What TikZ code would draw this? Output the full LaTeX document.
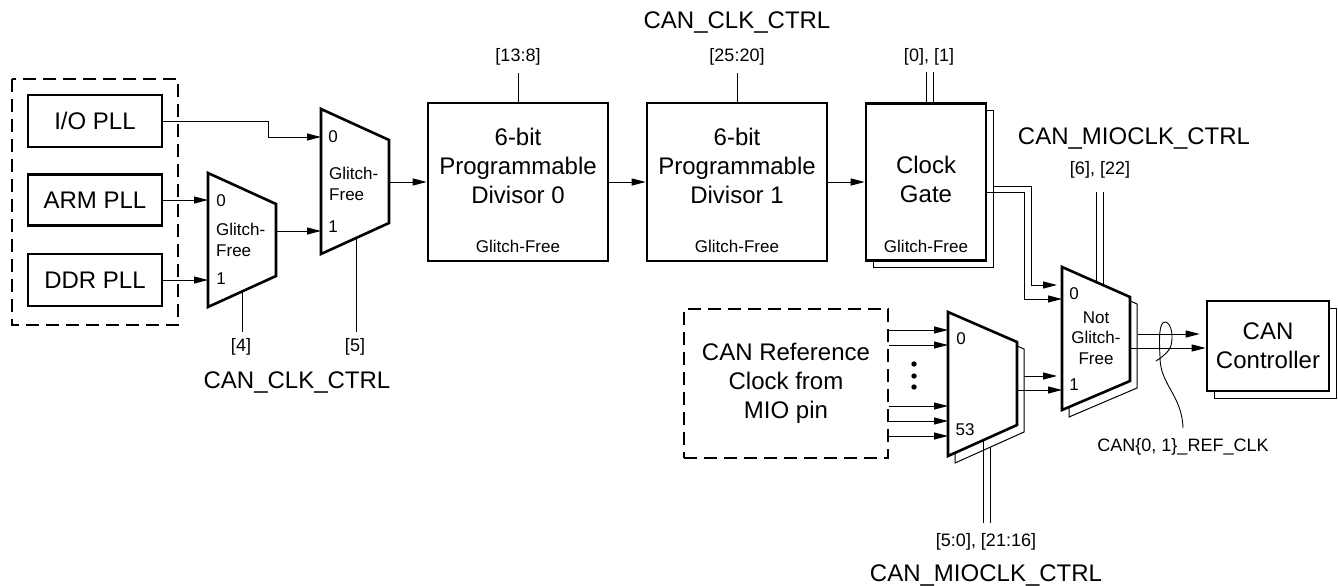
\documentclass[tikz,border=0pt]{standalone}
\usepackage{fontspec}
\setmainfont{Liberation Sans}
\usetikzlibrary{arrows.meta,shadows}

\newcommand{\bigtxt}{\fontsize{24}{29}\selectfont}
\newcommand{\muxtxt}{\fontsize{17}{20.5}\selectfont}
\newcommand{\bittxt}{\fontsize{18}{21}\selectfont}

\tikzset{
  blk/.style={draw, line width=2.6pt, fill=white, inner sep=0pt},
  shadowed/.style={copy shadow={shadow xshift=7pt, shadow yshift=-7pt, line width=1pt}},
  mux/.style={draw, line width=2.6pt, fill=white},
  wire/.style={line width=1pt},
  sig/.style={line width=1pt, -{Triangle[length=14pt,width=7pt]}},
  bitlbl/.style={font=\bittxt, inner sep=0pt},
  muxlbl/.style={font=\muxtxt, inner sep=0pt},
  dashbox/.style={draw, dash pattern=on 13pt off 7pt}
}

\begin{document}
\begin{tikzpicture}[x=1pt,y=-1pt,font=\bigtxt]
\useasboundingbox (0,0) rectangle (1338,586);

% PLL sources
\draw[dashbox, line width=1.2pt] (12,79) rectangle (178,325);
\node[blk, minimum width=134pt, minimum height=52pt] (iopll) at (95,121) {I/O PLL};
\node[blk, minimum width=134pt, minimum height=51pt] (armpll) at (95,200) {ARM PLL};
\node[blk, minimum width=134pt, minimum height=52pt] (ddrpll) at (95,280) {DDR PLL};

% first mux
\coordinate (ma-nw) at (208,173); \coordinate (ma-ne) at (276,204);
\coordinate (ma-se) at (276,276); \coordinate (ma-sw) at (208,307);
\draw[mux] (ma-nw) -- (ma-ne) -- (ma-se) -- (ma-sw) -- cycle;
\coordinate (ma-in0) at (208,200); \coordinate (ma-in1) at (208,280);
\coordinate (ma-out) at (276,231); \coordinate (ma-sel) at (242,292);
\node[muxlbl] (ma0) at (221,201) {0};
\node[muxlbl, anchor=west, align=left] (matxt) at (216,240) {Glitch-\\Free};
\node[muxlbl] (ma1) at (221,279) {1};

% second mux
\coordinate (mb-nw) at (321,109); \coordinate (mb-ne) at (389,140);
\coordinate (mb-se) at (389,223); \coordinate (mb-sw) at (321,254);
\draw[mux] (mb-nw) -- (mb-ne) -- (mb-se) -- (mb-sw) -- cycle;
\coordinate (mb-in0) at (321,137); \coordinate (mb-in1) at (321,231);
\coordinate (mb-out) at (389,182); \coordinate (mb-sel) at (356,238);
\node[muxlbl] (mb0) at (333,137) {0};
\node[muxlbl, anchor=west, align=left] (mbtxt) at (329,184) {Glitch-\\Free};
\node[muxlbl] (mb1) at (333,227) {1};

\draw[sig] (armpll.east) -- (ma-in0);
\draw[sig] (ddrpll.east) -- (ma-in1);
\draw[sig] (iopll.east) -- ++(105,0) |- (mb-in0);
\draw[sig] (ma-out) -- (mb-in1);

\draw[wire] (ma-sel) -- ++(0,40);
\draw[wire] (mb-sel) -- ++(0,94);
\node[bitlbl] (bit4) at (241,347) {[4]};
\node[bitlbl] (bit5) at (355,347) {[5]};
\node (ctrlbot) at (297,383) {CAN\_CLK\_CTRL};

% dividers and gate
\node[blk, minimum width=180pt, minimum height=158pt] (div0) at (518,182) {};
\node[align=center] (div0txt) at (518,166) {6-bit\\Programmable\\Divisor 0};
\node[muxlbl] (div0gf) at (518,246) {Glitch-Free};
\node[blk, minimum width=180pt, minimum height=158pt] (div1) at (737,182) {};
\node[align=center] (div1txt) at (737,166) {6-bit\\Programmable\\Divisor 1};
\node[muxlbl] (div1gf) at (737,246) {Glitch-Free};
\node[blk, shadowed, minimum width=120pt, minimum height=157pt] (gate) at (926,182) {};
\node[align=center] (gatetxt) at (926,179) {Clock\\Gate};
\node[muxlbl] (gategf) at (926,246) {Glitch-Free};

\draw[sig] (mb-out) -- (div0.west);
\draw[sig] (div0.east) -- (div1.west);
\draw[sig] (div1.east) -- (gate.west);

\draw[wire] (div0.north) -- ++(0,-29);
\draw[wire] (div1.north) -- ++(0,-29);
\draw[wire] (gate.north) -- ++(0,-30) ([xshift=7pt]gate.north) -- ++(0,-30);
\node[bitlbl] (bit138) at (518,57) {[13:8]};
\node[bitlbl] (bit2520) at (737,57) {[25:20]};
\node[bitlbl] (bit01) at (929,57) {[0], [1]};
\node (ctrltop) at (737,23) {CAN\_CLK\_CTRL};

% MIO reference clock
\node[dashbox, line width=2.2pt, minimum width=204pt, minimum height=149pt, align=center]
  (mioref) at (786,383.5) {CAN Reference\\Clock from\\MIO pin};

% 54 input mux
\coordinate (md-nw) at (948,312); \coordinate (md-ne) at (1017,342);
\coordinate (md-se) at (1017,425); \coordinate (md-sw) at (948,456);
\draw[mux, shadowed] (md-nw) -- (md-ne) -- (md-se) -- (md-sw) -- cycle;
\coordinate (md-in0) at (948,330); \coordinate (md-in1) at (948,345);
\coordinate (md-in2) at (948,406); \coordinate (md-in3) at (948,421);
\coordinate (md-in4) at (948,436);
\coordinate (md-out0) at (1024,376); \coordinate (md-out1) at (1017,390);
\coordinate (md-sel0) at (983,440); \coordinate (md-sel1) at (990,447);
\node[muxlbl] (md0) at (961,339) {0};
\node[muxlbl] (md53) at (965,430) {53};
\foreach \i in {0,...,4}
  \draw[sig] (mioref.east |- md-in\i) -- (md-in\i);
\fill (914,364) circle (2.7) (914,376) circle (2.7) (914,387) circle (2.7);

\draw[wire] (md-sel0) -- ++(0,83) (md-sel1) -- ++(0,76);
\node[bitlbl] (bit50) at (986,542) {[5:0], [21:16]};
\node (mioctrlbot) at (986,575) {CAN\_MIOCLK\_CTRL};

% output mux
\coordinate (mc-nw) at (1062,267); \coordinate (mc-ne) at (1130,297);
\coordinate (mc-se) at (1130,381); \coordinate (mc-sw) at (1062,410);
\draw[mux, shadowed] (mc-nw) -- (mc-ne) -- (mc-se) -- (mc-sw) -- cycle;
\coordinate (mc-in0a) at (1057,285); \coordinate (mc-in0b) at (1062,299);
\coordinate (mc-in1a) at (1057,376); \coordinate (mc-in1b) at (1062,390);
\coordinate (mc-out0) at (1138,334); \coordinate (mc-out1) at (1130,348);
\coordinate (mc-sel0) at (1096,282); \coordinate (mc-sel1) at (1103,285);
\node[muxlbl] (mc0) at (1074,294) {0};
\node[muxlbl, align=center] (mctxt) at (1096,338) {Not\\Glitch-\\Free};
\node[muxlbl] (mc1) at (1074,385) {1};

\draw[sig] ([xshift=7pt,yshift=-4pt]gate.east) -- ++(37,0) |- (mc-in0a);
\draw[sig] ([yshift=-10pt]gate.east) -- ++(37,0) |- (mc-in0b);
\draw[sig] (md-out0) -- (mc-in1a);
\draw[sig] (md-out1) -- (mc-in1b);

\draw[wire] (mc-sel0) -- ++(0,-90) (mc-sel1) -- ++(0,-93);
\node[bitlbl] (bit622) at (1100,170) {[6], [22]};
\node (mioctrltop) at (1134,139) {CAN\_MIOCLK\_CTRL};

% controller
\node[blk, shadowed, minimum width=122pt, minimum height=90pt, align=center]
  (can) at (1268,346) {CAN\\Controller};
\draw[sig, shorten >=6pt] (mc-out0) -- (mc-out0 -| can.west);
\draw[sig] (mc-out1) -- (mc-out1 -| can.west);

\node[bitlbl] (refclk) at (1183,447) {CAN\{0, 1\}\_REF\_CLK};
\draw[line width=0.9pt] (1183,428) .. controls (1182,395) and (1160,385) .. (1160,357)
  .. controls (1159,338) and (1159,322) .. (1165,322)
  .. controls (1172,322) and (1174,340) .. (1170,348)
  .. controls (1166,355) and (1160,358) .. (1156,361);
\end{tikzpicture}
\end{document}
